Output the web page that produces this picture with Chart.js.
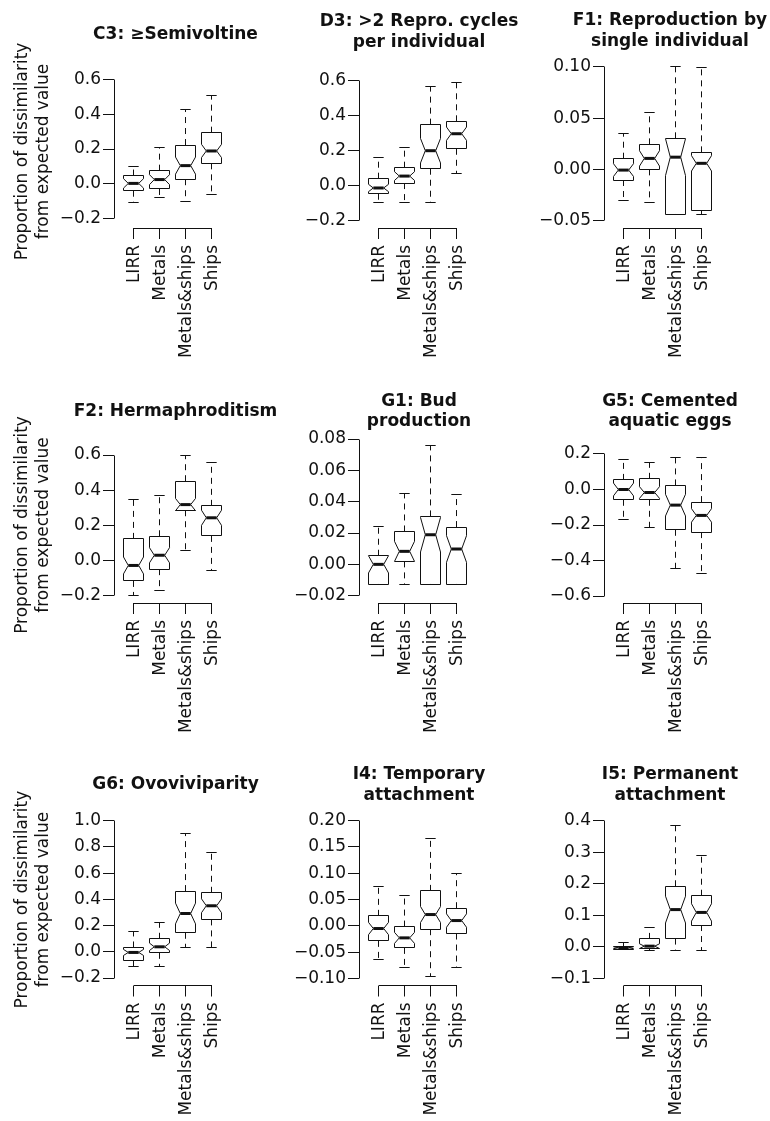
<!DOCTYPE html>
<html>
<head>
<meta charset="utf-8">
<script src="https://cdn.jsdelivr.net/npm/chart.js@4.4.1/dist/chart.umd.min.js"></script>
<style>
  html, body { margin: 0; padding: 0; background: #fff; }
  #wrap { position: relative; width: 770px; height: 1121px; overflow: hidden; background: #fff; }
  #wrap canvas { position: absolute; left: 0; }
</style>
</head>
<body>
<div id="wrap"></div>
<script>
// ---------------- DATA ----------------
const categories = ['LIRR', 'Metals', 'Metals&ships', 'Ships'];
const yAxisTitle = ['Proportion of dissimilarity', 'from expected value'];

// tick values and tick labels per panel
const ticksC3 = [-0.2, 0, 0.2, 0.4, 0.6];
const labelsC3 = ['\u22120.2', '0.0', '0.2', '0.4', '0.6'];
const ticksD3 = [-0.2, 0, 0.2, 0.4, 0.6];
const labelsD3 = ['\u22120.2', '0.0', '0.2', '0.4', '0.6'];
const ticksF1 = [-0.05, 0, 0.05, 0.10];
const labelsF1 = ['\u22120.05', '0.00', '0.05', '0.10'];
const ticksF2 = [-0.2, 0, 0.2, 0.4, 0.6];
const labelsF2 = ['\u22120.2', '0.0', '0.2', '0.4', '0.6'];
const ticksG1 = [-0.02, 0, 0.02, 0.04, 0.06, 0.08];
const labelsG1 = ['\u22120.02', '0.00', '0.02', '0.04', '0.06', '0.08'];
const ticksG5 = [-0.6, -0.4, -0.2, 0, 0.2];
const labelsG5 = ['\u22120.6', '\u22120.4', '\u22120.2', '0.0', '0.2'];
const ticksG6 = [-0.2, 0, 0.2, 0.4, 0.6, 0.8, 1.0];
const labelsG6 = ['\u22120.2', '0.0', '0.2', '0.4', '0.6', '0.8', '1.0'];
const ticksI4 = [-0.10, -0.05, 0, 0.05, 0.10, 0.15, 0.20];
const labelsI4 = ['\u22120.10', '\u22120.05', '0.00', '0.05', '0.10', '0.15', '0.20'];
const ticksI5 = [-0.1, 0, 0.1, 0.2, 0.3, 0.4];
const labelsI5 = ['\u22120.1', '0.0', '0.1', '0.2', '0.3', '0.4'];

// box statistics: [lower whisker, Q1, notch low, median, notch high, Q3, upper whisker]
const C3_LIRR        = [-0.109, -0.039, -0.024,  0.003,  0.030,  0.048,  0.101];
const C3_Metals      = [-0.080, -0.029, -0.004,  0.025,  0.053,  0.076,  0.208];
const C3_MetalsShips = [-0.099,  0.027,  0.056,  0.105,  0.154,  0.223,  0.424];
const C3_Ships       = [-0.058,  0.118,  0.151,  0.189,  0.227,  0.294,  0.508];

const D3_LIRR        = [-0.095, -0.046, -0.034, -0.013,  0.008,  0.040,  0.164];
const D3_Metals      = [-0.095,  0.015,  0.030,  0.055,  0.080,  0.103,  0.221];
const D3_MetalsShips = [-0.095,  0.097,  0.130,  0.200,  0.270,  0.349,  0.568];
const D3_Ships       = [ 0.069,  0.211,  0.259,  0.297,  0.335,  0.368,  0.592];

const F1_LIRR        = [-0.0305, -0.0103, -0.0068, -0.0006, 0.0056, 0.0105, 0.0350];
const F1_Metals      = [-0.0324,  0.0001,  0.0033,  0.0108, 0.0183, 0.0245, 0.0560];
const F1_MetalsShips = [-0.0438, -0.0438, -0.0060,  0.0120, 0.0300, 0.0304, 0.1000];
const F1_Ships       = [-0.0435, -0.0396, -0.0015,  0.0060, 0.0135, 0.0167, 0.0997];

const F2_LIRR        = [-0.199, -0.116, -0.076, -0.028,  0.020,  0.123,  0.349];
const F2_Metals      = [-0.169, -0.049, -0.013,  0.030,  0.073,  0.138,  0.372];
const F2_MetalsShips = [ 0.055,  0.286,  0.283,  0.318,  0.353,  0.451,  0.599];
const F2_Ships       = [-0.057,  0.140,  0.200,  0.243,  0.286,  0.311,  0.555];

const G1_LIRR        = [-0.0126, -0.0126, -0.0055, 0.0000, 0.0055, 0.0055, 0.0243];
const G1_Metals      = [-0.0126,  0.0019,  0.0019, 0.0083, 0.0147, 0.0210, 0.0451];
const G1_MetalsShips = [-0.0126, -0.0126,  0.0079, 0.0189, 0.0299, 0.0306, 0.0757];
const G1_Ships       = [-0.0126, -0.0126,  0.0013, 0.0098, 0.0183, 0.0238, 0.0449];

const G5_LIRR        = [-0.167, -0.058, -0.036,  0.000,  0.036,  0.054,  0.167];
const G5_Metals      = [-0.214, -0.058, -0.050, -0.017,  0.016,  0.060,  0.152];
const G5_MetalsShips = [-0.447, -0.227, -0.149, -0.088, -0.027,  0.023,  0.182];
const G5_Ships       = [-0.473, -0.240, -0.184, -0.146, -0.108, -0.071,  0.182];

const G6_LIRR        = [-0.109, -0.069, -0.028, -0.005,  0.018,  0.033,  0.153];
const G6_Metals      = [-0.109, -0.008,  0.010,  0.038,  0.066,  0.099,  0.226];
const G6_MetalsShips = [ 0.031,  0.145,  0.213,  0.292,  0.371,  0.463,  0.903];
const G6_Ships       = [ 0.031,  0.247,  0.298,  0.351,  0.404,  0.450,  0.755];

const I4_LIRR        = [-0.0630, -0.0284, -0.0167, -0.0050,  0.0067,  0.0190, 0.0752];
const I4_Metals      = [-0.0796, -0.0417, -0.0332, -0.0227, -0.0122, -0.0013, 0.0568];
const I4_MetalsShips = [-0.0950, -0.0063,  0.0063,  0.0215,  0.0367,  0.0663, 0.1650];
const I4_Ships       = [-0.0796, -0.0145, -0.0026,  0.0101,  0.0228,  0.0335, 0.0992];

const I5_LIRR        = [-0.0100, -0.0085, -0.0060, -0.0030, 0.0000, 0.0020, 0.0137];
const I5_Metals      = [-0.0110, -0.0060, -0.0055,  0.0020, 0.0095, 0.0250, 0.0620];
const I5_MetalsShips = [-0.0110,  0.0260,  0.0755,  0.1180, 0.1605, 0.1920, 0.3860];
const I5_Ships       = [-0.0110,  0.0690,  0.0815,  0.1090, 0.1365, 0.1620, 0.2880];

// ---------------- PANELS ----------------
const panels = [
  { title: 'C3: \u2265Semivoltine', row: 0, col: 0, ticks: ticksC3, labels: labelsC3,
    groups: [C3_LIRR, C3_Metals, C3_MetalsShips, C3_Ships] },
  { title: ['D3: >2 Repro. cycles', 'per individual'], row: 0, col: 1, ticks: ticksD3, labels: labelsD3,
    groups: [D3_LIRR, D3_Metals, D3_MetalsShips, D3_Ships] },
  { title: ['F1: Reproduction by', 'single individual'], row: 0, col: 2, ticks: ticksF1, labels: labelsF1,
    groups: [F1_LIRR, F1_Metals, F1_MetalsShips, F1_Ships] },
  { title: 'F2: Hermaphroditism', row: 1, col: 0, ticks: ticksF2, labels: labelsF2,
    groups: [F2_LIRR, F2_Metals, F2_MetalsShips, F2_Ships] },
  { title: ['G1: Bud', 'production'], row: 1, col: 1, ticks: ticksG1, labels: labelsG1,
    groups: [G1_LIRR, G1_Metals, G1_MetalsShips, G1_Ships] },
  { title: ['G5: Cemented', 'aquatic eggs'], row: 1, col: 2, ticks: ticksG5, labels: labelsG5,
    groups: [G5_LIRR, G5_Metals, G5_MetalsShips, G5_Ships] },
  { title: 'G6: Ovoviviparity', row: 2, col: 0, ticks: ticksG6, labels: labelsG6,
    groups: [G6_LIRR, G6_Metals, G6_MetalsShips, G6_Ships] },
  { title: ['I4: Temporary', 'attachment'], row: 2, col: 1, ticks: ticksI4, labels: labelsI4,
    groups: [I4_LIRR, I4_Metals, I4_MetalsShips, I4_Ships] },
  { title: ['I5: Permanent', 'attachment'], row: 2, col: 2, ticks: ticksI5, labels: labelsI5,
    groups: [I5_LIRR, I5_Metals, I5_MetalsShips, I5_Ships] }
];

// ---------------- LAYOUT / STYLE ----------------
const INK = '#111111';
const FONT = 'DejaVu Sans';
const FS = 17;
const TITLE_LH = FS * 1.2;
const CANVAS_W = 900;
const ROW_TOP = [0, 370, 750];
const ROW_H = [370, 380, 371];
const ROW_AREA_BOTTOM = [228, 603, 985.5];
const COL_AXIS_X = [114, 359, 604];
const COL_TITLE_X = [175.5, 419, 670];
const COL_SCALE_LEFT = [12, 259, 504];
const X_MIN = 0.25, X_UNIT_PX = 25.9;
const BOX_HALF = 0.4, NOTCH_FRAC = 0.5, STAPLE_FRAC = 0.5;
// per panel: chart-area top (px), title block centre (px), y range
const panelLayout = [
  { areaTop: 75,    titleCy: 33.5,  yRange: [-0.2528, 0.6247] },
  { areaTop: 74,    titleCy: 31,    yRange: [-0.2417, 0.6383] },
  { areaTop: 60,    titleCy: 30,    yRange: [-0.0571, 0.1068] },
  { areaTop: 447,   titleCy: 410.8, yRange: [-0.2415, 0.6455] },
  { areaTop: 432,   titleCy: 410.8, yRange: [-0.02466, 0.08447] },
  { areaTop: 447,   titleCy: 410.8, yRange: [-0.6394, 0.2394] },
  { areaTop: 813.7, titleCy: 784,   yRange: [-0.2572, 1.0534] },
  { areaTop: 813,   titleCy: 784,   yRange: [-0.1129, 0.2138] },
  { areaTop: 813,   titleCy: 784,   yRange: [-0.1228, 0.4244] }
];

Chart.defaults.font.family = FONT;
Chart.defaults.font.size = FS;
Chart.defaults.color = INK;

const al = v => Math.round(v - 0.5) + 0.5;

const notchedBoxPlugin = {
  id: 'notchedBox',
  afterDraw(chart) {
    const { ctx, chartArea: a, scales: { x, y } } = chart;
    ctx.save();
    ctx.strokeStyle = INK;
    ctx.lineWidth = 1;
    ctx.lineCap = 'butt';
    ctx.lineJoin = 'miter';
    // y axis line between first and last tick (R style)
    const yt = y.ticks;
    const ax = al(a.left);
    ctx.beginPath();
    ctx.moveTo(ax, al(y.getPixelForValue(yt[0].value)));
    ctx.lineTo(ax, al(y.getPixelForValue(yt[yt.length - 1].value)));
    ctx.stroke();
    // x axis bracket between first and last category
    const xt = x.ticks;
    const by = al(a.bottom);
    ctx.beginPath();
    ctx.moveTo(al(x.getPixelForValue(xt[0].value)), by);
    ctx.lineTo(al(x.getPixelForValue(xt[xt.length - 1].value)) + 0.5, by);
    ctx.stroke();

    const groups = chart.data.datasets[0].boxStats;
    groups.forEach((s, i) => {
      const xv = i + 1;
      const xc = al(x.getPixelForValue(xv));
      const hw = x.getPixelForValue(xv + BOX_HALF) - x.getPixelForValue(xv);
      const nw = hw * NOTCH_FRAC, sw = hw * STAPLE_FRAC;
      const [lo, q1, nlo, med, nhi, q3, hi] = s.map(v => y.getPixelForValue(v));
      const L = al(xc - hw), R = al(xc + hw);
      // dashed whiskers
      ctx.setLineDash([6, 5]);
      ctx.beginPath(); ctx.moveTo(xc, q3); ctx.lineTo(xc, hi); ctx.stroke();
      ctx.beginPath(); ctx.moveTo(xc, q1); ctx.lineTo(xc, lo); ctx.stroke();
      ctx.setLineDash([]);
      // staples
      ctx.beginPath();
      ctx.moveTo(xc - sw, al(hi)); ctx.lineTo(xc + sw, al(hi));
      ctx.moveTo(xc - sw, al(lo)); ctx.lineTo(xc + sw, al(lo));
      ctx.stroke();
      // notched box
      ctx.beginPath();
      ctx.moveTo(L, al(q1));
      ctx.lineTo(L, nlo);
      ctx.lineTo(xc - nw, med);
      ctx.lineTo(L, nhi);
      ctx.lineTo(L, al(q3));
      ctx.lineTo(R, al(q3));
      ctx.lineTo(R, nhi);
      ctx.lineTo(xc + nw, med);
      ctx.lineTo(R, nlo);
      ctx.lineTo(R, al(q1));
      ctx.closePath();
      ctx.stroke();
      // median
      ctx.lineWidth = 3;
      ctx.beginPath();
      ctx.moveTo(xc - nw, med);
      ctx.lineTo(xc + nw, med);
      ctx.stroke();
      ctx.lineWidth = 1;
    });
    ctx.restore();
  }
};

const wrap = document.getElementById('wrap');

panels.forEach((p, k) => {
  const lay = panelLayout[k];
  const row = p.row, col = p.col;
  const T = ROW_TOP[row];
  const cv = document.createElement('canvas');
  cv.width = CANVAS_W;
  cv.height = ROW_H[row];
  cv.style.top = T + 'px';
  wrap.appendChild(cv);

  const nLines = Array.isArray(p.title) ? p.title.length : 1;
  const padTop = lay.titleCy + 1 - T - nLines * TITLE_LH / 2;
  const padBottom = lay.areaTop - T - padTop - nLines * TITLE_LH;
  const scaleLeft = COL_SCALE_LEFT[col];
  const areaRight = 2 * COL_TITLE_X[col] - scaleLeft;
  const yAxisW = COL_AXIS_X[col] - scaleLeft;
  const xAxisH = ROW_H[row] - (ROW_AREA_BOTTOM[row] - T);
  const xMax = X_MIN + (areaRight - COL_AXIS_X[col]) / X_UNIT_PX;

  new Chart(cv, {
    type: 'scatter',
    data: {
      datasets: [{
        data: p.groups.map((g, i) => ({ x: i + 1, y: g[3] })),
        boxStats: p.groups,
        pointRadius: 0,
        pointHoverRadius: 0,
        showLine: false
      }]
    },
    options: {
      responsive: false,
      animation: false,
      events: [],
      layout: { padding: { left: scaleLeft, right: CANVAS_W - areaRight, top: 0, bottom: 0 } },
      plugins: {
        legend: { display: false },
        tooltip: { enabled: false },
        title: {
          display: true,
          text: p.title,
          fullSize: true,
          color: INK,
          font: { family: FONT, size: FS, weight: 'bold', lineHeight: 1.2 },
          padding: { top: padTop, bottom: padBottom }
        }
      },
      scales: {
        x: {
          type: 'linear',
          min: X_MIN,
          max: xMax,
          afterBuildTicks: s => { s.ticks = categories.map((c, i) => ({ value: i + 1 })); },
          afterFit: s => { s.height = xAxisH; },
          ticks: {
            callback: (v, i) => categories[i],
            minRotation: 90, maxRotation: 90,
            autoSkip: false,
            padding: 6,
            labelOffset: 1.5,
            color: INK,
            font: { family: FONT, size: FS }
          },
          grid: { display: true, drawOnChartArea: false, drawTicks: true, tickLength: 11, color: INK, lineWidth: 1 },
          border: { display: false }
        },
        y: {
          type: 'linear',
          min: lay.yRange[0],
          max: lay.yRange[1],
          afterBuildTicks: s => { s.ticks = p.ticks.map(v => ({ value: v })); },
          afterFit: s => { s.width = yAxisW; },
          ticks: {
            callback: (v, i) => p.labels[i],
            autoSkip: false,
            padding: 2,
            color: INK,
            font: { family: FONT, size: FS }
          },
          grid: { display: true, drawOnChartArea: false, drawTicks: true, tickLength: 11, color: INK, lineWidth: 1 },
          border: { display: false },
          title: {
            display: col === 0,
            text: yAxisTitle,
            color: INK,
            font: { family: FONT, size: FS, lineHeight: 1.25 },
            padding: { top: 0, bottom: 0 }
          }
        }
      }
    },
    plugins: [notchedBoxPlugin]
  });
});
</script>
</body>
</html>
